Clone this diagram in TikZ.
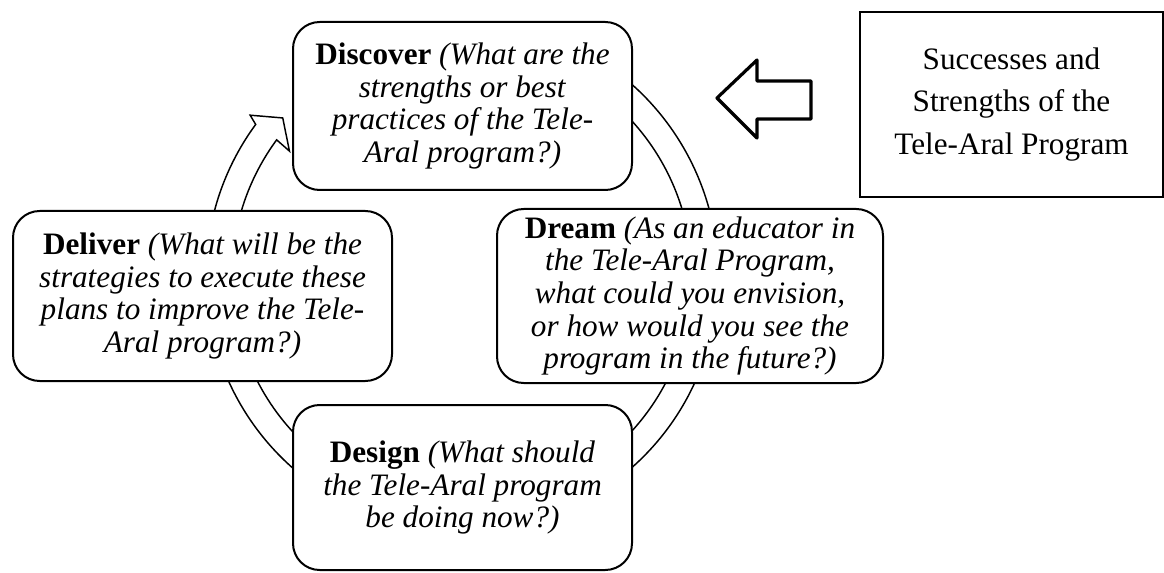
\documentclass[tikz,border=0pt]{standalone}
\usepackage{fontspec}
\setmainfont{Liberation Serif}
\begin{document}
\begin{tikzpicture}[x=0.75pt,y=0.75pt,
  phase/.style={draw, line width=1.5pt, rounded corners=20pt, fill=white,
    inner sep=0pt, align=center, font=\fontsize{23.4}{24.4}\selectfont},
  note/.style={draw, line width=1.5pt, fill=white, inner sep=0pt,
    align=center, font=\fontsize{23.4}{31.9}\selectfont},
  ring/.style={draw, line width=1.1pt, fill=white, line join=miter},
  pointer/.style={draw, line width=2.4pt, line join=round}]
\useasboundingbox (0,0) rectangle (1164,572);

% cycle ring behind the four phases, head at upper left
\coordinate (c) at (462,296);
\draw[ring] ([shift={(75:256)}]c)
  arc[start angle=75, end angle=-216.3, radius=256]
  -- ([shift={(-217.2:266)}]c)
  -- ([shift={(-221.4:239)}]c)
  -- ([shift={(-215.9:213)}]c)
  -- ([shift={(-216.3:230)}]c)
  arc[start angle=-216.3, end angle=75, radius=230] -- cycle;

% the four phases
\node[phase, minimum width=339*0.75pt, minimum height=168*0.75pt] (discover) at (462.5,466)
  {\textbf{Discover} \textit{(What are the}\\ \textit{strengths or best}\\ \textit{practices of the Tele-}\\ \textit{Aral program?)}};
\node[phase, minimum width=386*0.75pt, minimum height=174*0.75pt] (dream) at (690,276)
  {\textbf{Dream} \textit{(As an educator in}\\ \textit{the Tele-Aral Program,}\\ \textit{what could you envision,}\\ \textit{or how would you see the}\\ \textit{program in the future?)}};
\node[phase, minimum width=379*0.75pt, minimum height=170*0.75pt] (deliver) at (202.5,276)
  {\textbf{Deliver} \textit{(What will be the}\\ \textit{strategies to execute these}\\ \textit{plans to improve the Tele-}\\ \textit{Aral program?)}};
\node[phase, minimum width=339*0.75pt, minimum height=165*0.75pt] (design) at (462.5,84.5)
  {\textbf{Design} \textit{(What should}\\ \textit{the Tele-Aral program}\\ \textit{be doing now?)}};

% side note with its block arrow
\node[note, minimum width=303*0.75pt, minimum height=185*0.75pt] (strengths) at (1011.5,467.5)
  {Successes and\\ Strengths of the\\ Tele-Aral Program};
\draw[pointer] (717,474) -- (757,512) -- (757,491) -- (811,491)
  -- (811,453) -- (757,453) -- (757,434) -- cycle;
\end{tikzpicture}
\end{document}
